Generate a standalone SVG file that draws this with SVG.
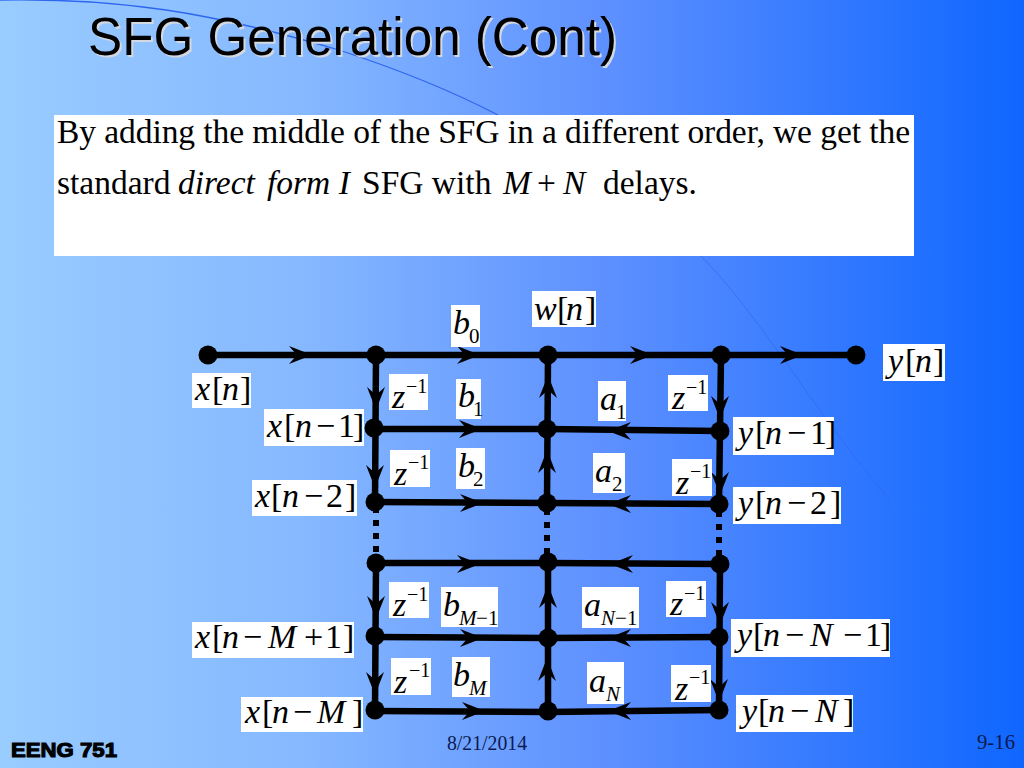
<svg xmlns="http://www.w3.org/2000/svg" xmlns:xlink="http://www.w3.org/1999/xlink" width="1024" height="768" viewBox="0 0 1024 768">
<style>
.m{font-family:"Liberation Serif","Times New Roman",serif;font-size:34px;fill:#000}
.m .i,.i{font-style:italic}
.s{font-size:21px}
.u{font-size:20px}
.box{fill:#fff}
.wire{stroke:#000;stroke-width:6.500;fill:none}
.dots{stroke:#000;stroke-width:6;fill:none;stroke-dasharray:6 7}
.dot{fill:#000}
.body{font-family:"Liberation Serif","Times New Roman",serif;font-size:33.500px;fill:#000}
.title{font-family:"Liberation Sans",Arial,sans-serif;font-size:53px}
</style>
<defs>
<linearGradient id="bg" x1="0" y1="0" x2="1" y2="0">
<stop offset="0" stop-color="#99ccff"/>
<stop offset="0.3" stop-color="#85b8ff"/>
<stop offset="0.6" stop-color="#5c8fff"/>
<stop offset="1" stop-color="#0f66ff"/>
</linearGradient>
<path id="ah" d="M0 0L-23 -9L-15 0L-23 9Z" fill="#000"/>
</defs>
<rect width="1024" height="768" fill="url(#bg)"/>
<path d="M0 0C120 -2 210 12 339 50C400 70 450 90 498 115" fill="none" stroke="#2f66ee" stroke-width="1.3"/>
<path d="M700 255C760 315 820 420 890 500" fill="none" stroke="#2f66ee" stroke-width="1" opacity="0.6"/>

<g id="title">
<text class="title" x="90" y="57" fill="#d4d8e0" textLength="529" lengthAdjust="spacingAndGlyphs">SFG Generation (Cont)</text>
<text class="title" x="88" y="55" fill="#000" textLength="529" lengthAdjust="spacingAndGlyphs">SFG Generation (Cont)</text>
</g>

<g id="statement">
<rect class="box" x="54" y="115" width="860" height="141"/>
<text class="body" x="57" y="143" textLength="853">By adding the middle of the SFG in a different order, we get the</text>
<text class="body" y="194"><tspan x="57">standard</tspan><tspan class="i" x="178">direct</tspan><tspan class="i" x="267">form I</tspan><tspan x="362">SFG with</tspan><tspan class="i" x="503">M</tspan><tspan x="537">+</tspan><tspan class="i" x="563">N</tspan><tspan x="603">delays.</tspan></text>
</g>

<g id="connectors">
<path class="wire" d="M208 355H856"/>
<path class="wire" d="M375 429L547 429L720 431"/>
<path class="wire" d="M375 502L547 503L719 504"/>
<path class="wire" d="M376 563L548 563L720 564"/>
<path class="wire" d="M376 637L548 638L719 637"/>
<path class="wire" d="M375 711L548 712L719 710"/>
<path class="wire" d="M376 355L375 502"/>
<path class="wire" d="M376 563L375 711"/>
<path class="wire" d="M548 355L547 503"/>
<path class="wire" d="M548 563L548 712"/>
<path class="wire" d="M721 355L719 504"/>
<path class="wire" d="M720 564L719 710"/>
<path class="dots" d="M376 507V560"/>
<path class="dots" d="M547 509V560"/>
<path class="dots" d="M719 511V560"/>
<use xlink:href="#ah" href="#ah" transform="translate(312 355)"/>
<use xlink:href="#ah" href="#ah" transform="translate(480 355)"/>
<use xlink:href="#ah" href="#ah" transform="translate(653 355)"/>
<use xlink:href="#ah" href="#ah" transform="translate(803 355)"/>
<use xlink:href="#ah" href="#ah" transform="translate(482 429)"/>
<use xlink:href="#ah" href="#ah" transform="translate(483 503)"/>
<use xlink:href="#ah" href="#ah" transform="translate(480 564)"/>
<use xlink:href="#ah" href="#ah" transform="translate(483 638)"/>
<use xlink:href="#ah" href="#ah" transform="translate(485 711)"/>
<use xlink:href="#ah" href="#ah" transform="translate(608 431) rotate(180)"/>
<use xlink:href="#ah" href="#ah" transform="translate(608 504) rotate(180)"/>
<use xlink:href="#ah" href="#ah" transform="translate(610 564) rotate(180)"/>
<use xlink:href="#ah" href="#ah" transform="translate(608 638) rotate(180)"/>
<use xlink:href="#ah" href="#ah" transform="translate(608 711) rotate(180)"/>
<use xlink:href="#ah" href="#ah" transform="translate(376 410) rotate(90)"/>
<use xlink:href="#ah" href="#ah" transform="translate(375 488) rotate(90)"/>
<use xlink:href="#ah" href="#ah" transform="translate(376 619) rotate(90)"/>
<use xlink:href="#ah" href="#ah" transform="translate(375 695) rotate(90)"/>
<use xlink:href="#ah" href="#ah" transform="translate(548 375) rotate(-90)"/>
<use xlink:href="#ah" href="#ah" transform="translate(547 450) rotate(-90)"/>
<use xlink:href="#ah" href="#ah" transform="translate(548 585) rotate(-90)"/>
<use xlink:href="#ah" href="#ah" transform="translate(547 658) rotate(-90)"/>
<use xlink:href="#ah" href="#ah" transform="translate(720 419) rotate(90)"/>
<use xlink:href="#ah" href="#ah" transform="translate(720 495) rotate(90)"/>
<use xlink:href="#ah" href="#ah" transform="translate(720 625) rotate(90)"/>
<use xlink:href="#ah" href="#ah" transform="translate(719 702) rotate(90)"/>
</g>

<g id="nodes">
<circle id="n-in" class="dot" cx="208" cy="355" r="9.500"/>
<circle id="n-a0" class="dot" cx="376" cy="355" r="9.500"/>
<circle id="n-b0" class="dot" cx="548" cy="355" r="9.500"/>
<circle id="n-c0" class="dot" cx="721" cy="355" r="9.500"/>
<circle id="n-out" class="dot" cx="856" cy="355" r="9.500"/>
<circle id="n-a1" class="dot" cx="374" cy="428" r="9.500"/>
<circle id="n-b1" class="dot" cx="547" cy="429" r="9.500"/>
<circle id="n-c1" class="dot" cx="720" cy="431" r="9.500"/>
<circle id="n-a2" class="dot" cx="375" cy="502" r="9.500"/>
<circle id="n-b2" class="dot" cx="547" cy="503" r="9.500"/>
<circle id="n-c2" class="dot" cx="719" cy="504" r="9.500"/>
<circle id="n-a3" class="dot" cx="376" cy="563" r="9.500"/>
<circle id="n-b3" class="dot" cx="548" cy="562" r="9.500"/>
<circle id="n-c3" class="dot" cx="720" cy="564" r="9.500"/>
<circle id="n-a4" class="dot" cx="375" cy="636" r="9.500"/>
<circle id="n-b4" class="dot" cx="548" cy="638" r="9.500"/>
<circle id="n-c4" class="dot" cx="719" cy="637" r="9.500"/>
<circle id="n-a5" class="dot" cx="375" cy="710" r="9.500"/>
<circle id="n-b5" class="dot" cx="548" cy="711" r="9.500"/>
<circle id="n-c5" class="dot" cx="719" cy="710" r="9.500"/>
</g>

<g id="labels">
<g id="l-xn"><rect class="box" x="192" y="373" width="59" height="35"/><text class="m" y="400"><tspan class="i" x="195">x</tspan><tspan x="212">[</tspan><tspan class="i" x="222">n</tspan><tspan x="240">]</tspan></text></g>
<g id="l-xn1"><rect class="box" x="264" y="409" width="100" height="37"/><text class="m" y="437"><tspan class="i" x="267">x</tspan><tspan x="284">[</tspan><tspan class="i" x="295">n</tspan><tspan x="316">−</tspan><tspan x="338">1</tspan><tspan x="353">]</tspan></text></g>
<g id="l-xn2"><rect class="box" x="252" y="480" width="105" height="36"/><text class="m" y="507"><tspan class="i" x="255">x</tspan><tspan x="271">[</tspan><tspan class="i" x="282">n</tspan><tspan x="304">−</tspan><tspan x="326">2</tspan><tspan x="345">]</tspan></text></g>
<g id="l-xnM1"><rect class="box" x="192" y="622" width="162" height="36"/><text class="m" y="648"><tspan class="i" x="195">x</tspan><tspan x="212">[</tspan><tspan class="i" x="222">n</tspan><tspan x="243">−</tspan><tspan class="i" x="268">M</tspan><tspan x="304">+</tspan><tspan x="325">1</tspan><tspan x="343">]</tspan></text></g>
<g id="l-xnM"><rect class="box" x="241" y="697" width="122" height="35"/><text class="m" y="723"><tspan class="i" x="245">x</tspan><tspan x="262">[</tspan><tspan class="i" x="272">n</tspan><tspan x="293">−</tspan><tspan class="i" x="317">M</tspan><tspan x="352">]</tspan></text></g>

<g id="l-w"><rect class="box" x="532" y="291" width="64" height="36"/><text class="m" y="320"><tspan class="i" x="534">w</tspan><tspan x="557">[</tspan><tspan class="i" x="566">n</tspan><tspan x="585">]</tspan></text></g>
<g id="l-yn"><rect class="box" x="883" y="344" width="62" height="37"/><text class="m" y="372"><tspan class="i" x="888">y</tspan><tspan x="905">[</tspan><tspan class="i" x="915">n</tspan><tspan x="933">]</tspan></text></g>
<g id="l-yn1"><rect class="box" x="733" y="417" width="101" height="38"/><text class="m" y="444"><tspan class="i" x="738">y</tspan><tspan x="755">[</tspan><tspan class="i" x="765">n</tspan><tspan x="787">−</tspan><tspan x="810">1</tspan><tspan x="825">]</tspan></text></g>
<g id="l-yn2"><rect class="box" x="733" y="487" width="108" height="37"/><text class="m" y="514"><tspan class="i" x="738">y</tspan><tspan x="755">[</tspan><tspan class="i" x="765">n</tspan><tspan x="787">−</tspan><tspan x="810">2</tspan><tspan x="830">]</tspan></text></g>
<g id="l-ynN1"><rect class="box" x="731" y="619" width="159" height="38"/><text class="m" y="646"><tspan class="i" x="737">y</tspan><tspan x="753">[</tspan><tspan class="i" x="763">n</tspan><tspan x="785">−</tspan><tspan class="i" x="810">N</tspan><tspan x="843">−</tspan><tspan x="865">1</tspan><tspan x="880">]</tspan></text></g>
<g id="l-ynN"><rect class="box" x="736" y="695" width="117" height="37"/><text class="m" y="722"><tspan class="i" x="742">y</tspan><tspan x="758">[</tspan><tspan class="i" x="768">n</tspan><tspan x="790">−</tspan><tspan class="i" x="815">N</tspan><tspan x="843">]</tspan></text></g>

<g id="l-z1"><rect class="box" x="389" y="374" width="39" height="36"/><text class="m" y="408"><tspan class="i" x="392">z</tspan><tspan class="u" x="406" y="393">−1</tspan></text></g>
<g id="l-z2"><rect class="box" x="390" y="450" width="40" height="37"/><text class="m" y="485"><tspan class="i" x="394">z</tspan><tspan class="u" x="408" y="469">−1</tspan></text></g>
<g id="l-z3"><rect class="box" x="389" y="582" width="40" height="36"/><text class="m" y="616"><tspan class="i" x="393">z</tspan><tspan class="u" x="407" y="601">−1</tspan></text></g>
<g id="l-z4"><rect class="box" x="391" y="658" width="40" height="37"/><text class="m" y="693"><tspan class="i" x="394">z</tspan><tspan class="u" x="409" y="677">−1</tspan></text></g>
<g id="l-z5"><rect class="box" x="668" y="375" width="40" height="36"/><text class="m" y="409"><tspan class="i" x="672">z</tspan><tspan class="u" x="686" y="394">−1</tspan></text></g>
<g id="l-z6"><rect class="box" x="672" y="459" width="40" height="37"/><text class="m" y="494"><tspan class="i" x="676">z</tspan><tspan class="u" x="690" y="478">−1</tspan></text></g>
<g id="l-z7"><rect class="box" x="666" y="581" width="40" height="36"/><text class="m" y="615"><tspan class="i" x="670">z</tspan><tspan class="u" x="684" y="600">−1</tspan></text></g>
<g id="l-z8"><rect class="box" x="671" y="665" width="40" height="37"/><text class="m" y="700"><tspan class="i" x="675">z</tspan><tspan class="u" x="689" y="684">−1</tspan></text></g>

<g id="l-b0"><rect class="box" x="451" y="305" width="29" height="42"/><text class="m" y="334"><tspan class="i" x="453">b</tspan><tspan class="s" x="469" y="343">0</tspan></text></g>
<g id="l-b1"><rect class="box" x="456" y="379" width="25" height="40"/><text class="m" y="407"><tspan class="i" x="458">b</tspan><tspan class="s" x="473" y="416">1</tspan></text></g>
<g id="l-b2"><rect class="box" x="456" y="448" width="29" height="41"/><text class="m" y="477"><tspan class="i" x="458">b</tspan><tspan class="s" x="473" y="486">2</tspan></text></g>
<g id="l-bM1"><rect class="box" x="441" y="587" width="57" height="40"/><text class="m" y="616"><tspan class="i" x="443">b</tspan><tspan class="s i" x="459" y="625">M</tspan><tspan class="s" x="476">−</tspan><tspan class="s" x="488">1</tspan></text></g>
<g id="l-bM"><rect class="box" x="452" y="657" width="38" height="40"/><text class="m" y="686"><tspan class="i" x="453">b</tspan><tspan class="s i" x="469" y="695">M</tspan></text></g>
<g id="l-a1"><rect class="box" x="598" y="381" width="28" height="40"/><text class="m" y="410"><tspan class="i" x="600">a</tspan><tspan class="s" x="616" y="419">1</tspan></text></g>
<g id="l-a2"><rect class="box" x="593" y="453" width="32" height="40"/><text class="m" y="482"><tspan class="i" x="595">a</tspan><tspan class="s" x="612" y="491">2</tspan></text></g>
<g id="l-aN1"><rect class="box" x="582" y="587" width="57" height="41"/><text class="m" y="616"><tspan class="i" x="584">a</tspan><tspan class="s i" x="601" y="625">N</tspan><tspan class="s" x="615">−</tspan><tspan class="s" x="627">1</tspan></text></g>
<g id="l-aN"><rect class="box" x="587" y="662" width="37" height="42"/><text class="m" y="692"><tspan class="i" x="589">a</tspan><tspan class="s i" x="606" y="701">N</tspan></text></g>
</g>

<g id="footer">
<text x="11" y="757" font-family="Liberation Sans,Arial,sans-serif" font-weight="700" font-size="20" fill="#000" stroke="#000" stroke-width="1.100" textLength="106" lengthAdjust="spacingAndGlyphs">EENG 751</text>
<text x="447" y="750" font-family="Liberation Serif,Times New Roman,serif" font-size="20" fill="#0a1a50" textLength="80" lengthAdjust="spacingAndGlyphs">8/21/2014</text>
<text x="977" y="749" font-family="Liberation Serif,Times New Roman,serif" font-size="20" fill="#0a1a50" textLength="38" lengthAdjust="spacingAndGlyphs">9-16</text>
</g>
</svg>
